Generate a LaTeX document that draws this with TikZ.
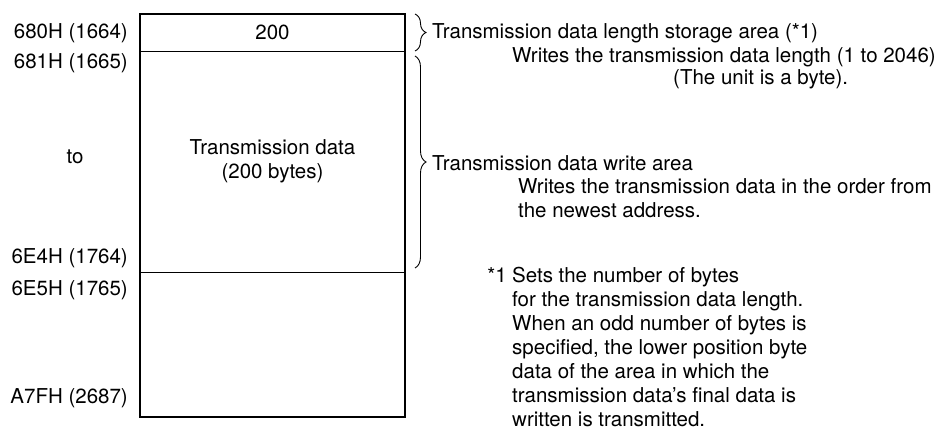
\documentclass[tikz,border=0pt]{standalone}
\usepackage{fontspec}
\setmainfont{TeX Gyre Heros}
\usetikzlibrary{decorations.pathreplacing}

\begin{document}
\begin{tikzpicture}[
  x=1pt,y=-1pt,
  txt/.style={inner sep=0pt,font=\fontsize{20.5}{24}\selectfont},
  addr/.style={txt,anchor=east},
  note/.style={txt,anchor=west,align=left},
  cell/.style={draw,line width=0.9pt,minimum width=265pt,inner sep=0pt,
               outer sep=0pt,anchor=north west,align=center,
               font=\fontsize{20.5}{24}\selectfont},
  frame/.style={draw,line width=1.5pt},
  brc/.style={decorate,decoration={brace,amplitude=11pt},line width=0.9pt}
]
  \useasboundingbox (0,0) rectangle (945,437);

  % memory map
  \node[cell,minimum height=37pt]  (lencell)  at (140,14)  {200};
  \node[cell,minimum height=221pt] (datacell) at (140,51)
    {Transmission data\\(200 bytes)};
  \node[cell,minimum height=145pt] (restcell) at (140,272) {};
  \draw[frame] (lencell.north west) rectangle (restcell.south east);

  % addresses
  \node[addr] (a680) at (128,33)  {680H (1664)};
  \node[addr] (a681) at (128,63)  {681H (1665)};
  \node[txt]  (ato)  at (75,157)  {to};
  \node[addr] (a6e4) at (128,258) {6E4H (1764)};
  \node[addr] (a6e5) at (128,290) {6E5H (1765)};
  \node[addr] (aa7f) at (128,398) {A7FH (2687)};

  % braces
  \draw[brc] ([xshift=10pt]lencell.north east)
          -- ([xshift=10pt]lencell.south east);
  \draw[brc] ([xshift=10pt,yshift=-5pt]datacell.north east)
          -- ([xshift=10pt,yshift=4pt]datacell.south east);

  % explanations
  \node[note] (lenhead)  at (432,33)  {Transmission data length storage area (*1)};
  \node[note] (lenwrite) at (512,57)  {Writes the transmission data length (1 to 2046)};
  \node[note] (lenunit)  at (673,79)  {(The unit is a byte).};
  \node[note] (datahead) at (432,163) {Transmission data write area};
  \node[note,anchor=north west] (datawrite) at (518,178)
    {Writes the transmission data in the order from\\the newest address.};

  % footnote
  \node[note,anchor=north west] (fntext) at (512,265)
    {\strut Sets the number of bytes\\
     for the transmission data length.\\
     When an odd number of bytes is\\
     specified, the lower position byte\\
     data of the area in which the\\
     transmission data's final data is\\
     written is transmitted.};
  \node[note,anchor=north east] (fnmark) at ([xshift=-5pt]fntext.north west)
    {\strut*1};
\end{tikzpicture}
\end{document}
